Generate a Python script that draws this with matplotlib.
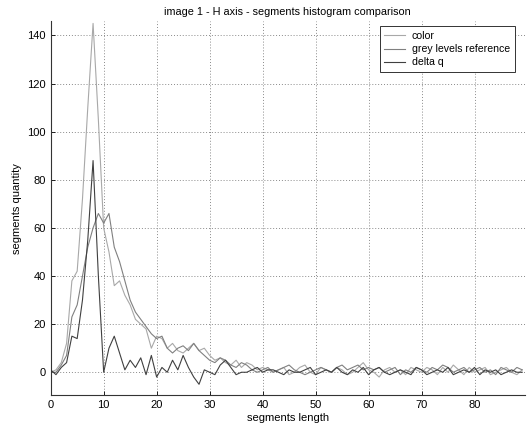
import matplotlib
matplotlib.use("Agg")
import matplotlib.pyplot as plt
import numpy as np

plt.rcParams['font.family'] = ['Liberation Sans', 'DejaVu Sans']

x_len = list(range(90))

color_vals = [0, 1, 4, 12, 38, 42, 72, 110, 145, 105, 60, 50, 36, 38, 32, 28, 22, 20, 18, 10,
              15, 14, 10, 12, 9, 8, 10, 12, 9, 10, 7, 5, 6, 4, 3, 5, 2, 4, 3, 1,
              2, 1, 0, 1, 2, -1, 0, 2, 3, 0, -1, 2, 1, 0, 2, 1, -1, 0, 2, 4,
              1, 0, -2, 1, 2, 0, 1, -1, 2, 1, 0, 2, 1, -1, 2, 0, 3, 1, -1, 2,
              0, 1, 2, -1, 0, 1, 2, 0, -1, 1]

grey_vals = [0, 0, 3, 7, 23, 28, 40, 52, 60, 66, 62, 66, 52, 46, 38, 30, 25, 22, 19, 16,
             14, 15, 10, 8, 10, 11, 9, 12, 9, 7, 5, 4, 6, 5, 3, 2, 4, 3, 1, 0,
             1, 2, 0, 1, 2, 3, 1, 0, -1, 0, 1, 2, 1, 0, 2, 3, 1, 2, 3, 1,
             2, 1, 2, 0, 1, 2, -1, 1, 0, 2, 1, 0, 2, 1, 3, 2, 0, 1, 2, 0,
             1, 2, 0, 1, -1, 2, 1, 0, 2, 1]

delta_vals = [1, -1, 2, 4, 15, 14, 30, 55, 88, 40, 0, 10, 15, 8, 1, 5, 2, 6, -1, 7,
              -2, 2, 0, 5, 1, 7, 2, -2, -5, 1, 0, -1, 3, 5, 2, -1, 0, 0, 1, 2,
              0, 1, 1, 0, -1, 1, 0, 0, 1, 2, -1, 0, 1, 0, 2, 0, -1, 1, 0, 2,
              -1, 1, 2, 0, -1, 0, 1, 0, -1, 2, 1, -1, 0, 1, 0, 2, -1, 0, 1, 0,
              2, -1, 1, 0, 1, -1, 0, 1, 0, 0]

xticks = [0, 10, 20, 30, 40, 50, 60, 70, 80]
yticks = [0, 20, 40, 60, 80, 100, 120, 140]

fig = plt.figure(figsize=(5.28, 4.29), dpi=100)
ax = fig.add_axes([0.096, 0.079, 0.898, 0.872])

ax.plot(x_len, color_vals, color='#a8a8a8', lw=0.8, label='color')
ax.plot(x_len, grey_vals, color='#808080', lw=0.8, label='grey levels reference')
ax.plot(x_len, delta_vals, color='#404040', lw=0.8, label='delta q')

ax.set_xlim(0, 89.5)
ax.set_ylim(-9.5, 146)
ax.set_xticks(xticks)
ax.set_yticks(yticks)
ax.tick_params(direction='in', labelsize=8, length=3, width=0.6)
ax.grid(True, linestyle=(0, (1, 2)), color='#8a8a8a', linewidth=0.7)
for s in ['top', 'right']:
    ax.spines[s].set_visible(False)
for s in ['left', 'bottom']:
    ax.spines[s].set_linewidth(0.8)
    ax.spines[s].set_color('#333333')

ax.set_title('image 1 - H axis - segments histogram comparison', fontsize=7.8, pad=4)
ax.set_xlabel('segments length', fontsize=8, labelpad=2)
ax.set_ylabel('segments quantity', fontsize=8, labelpad=4)

leg = ax.legend(loc='upper right', bbox_to_anchor=(0.99, 1.0), fontsize=7.6, fancybox=False,
                frameon=True, borderpad=0.45, handlelength=1.9, handletextpad=0.7,
                labelspacing=0.3, edgecolor='#333333', framealpha=1)
leg.get_frame().set_linewidth(0.7)

fig.savefig('out.png', dpi=100)
